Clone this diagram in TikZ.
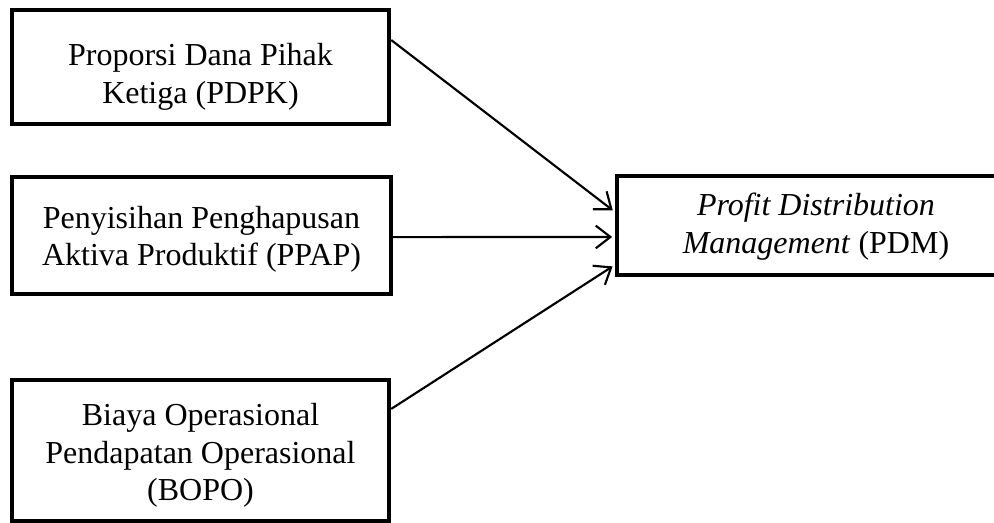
\documentclass[tikz,border=0pt]{standalone}
\usepackage{fontspec}
\setmainfont{Liberation Serif}
\usetikzlibrary{arrows.meta}
\begin{document}
\begin{tikzpicture}[x=0.375pt,y=-0.375pt]
		\tikzstyle{every node}+=[inner sep=0pt]
		\tikzstyle{varbox}=[draw=black, line width=1.65pt]
		\tikzstyle{vartext}=[align=center, font=\fontsize{12}{14.1}\selectfont]
		\tikzstyle{link}=[black, line width=0.8pt, shorten >=1pt, -{Straight Barb[length=5.5pt,width=8.5pt]}]
		\useasboundingbox (0,0) rectangle (994,523);
		\draw (200.5,67) node[varbox, minimum width=141.4pt, minimum height=42.75pt] (pdpk) {};
		\draw (200.5,77) node[vartext] (pdpktext) {Proporsi Dana Pihak\\Ketiga (PDPK)};
		\draw (201.5,235.5) node[varbox, minimum width=142.1pt, minimum height=43.9pt] (ppap) {};
		\draw (201.5,239.5) node[vartext] (ppaptext) {Penyisihan Penghapusan\\Aktiva Produktif (PPAP)};
		\draw (200.5,450.5) node[varbox, minimum width=141.4pt, minimum height=52.9pt] (bopo) {};
		\draw (200.5,455.5) node[vartext] (bopotext) {Biaya Operasional\\Pendapatan Operasional\\(BOPO)};
		\draw (858.5,225.5) node[varbox, minimum width=181.1pt, minimum height=37.1pt] (pdm) {};
		\draw (816,226.5) node[vartext] (pdmtext) {\textit{Profit Distribution}\\\textit{Management} (PDM)};
		\draw [link] ([yshift=10.1pt]pdpk.east) -- ([yshift=5.1pt]pdm.west);
		\draw [link] ([yshift=-0.6pt]ppap.east) -- ([yshift=-4.3pt]pdm.west);
		\draw [link] ([yshift=15.6pt]bopo.east) -- ([yshift=-14.8pt]pdm.west);
\end{tikzpicture}
\end{document}
